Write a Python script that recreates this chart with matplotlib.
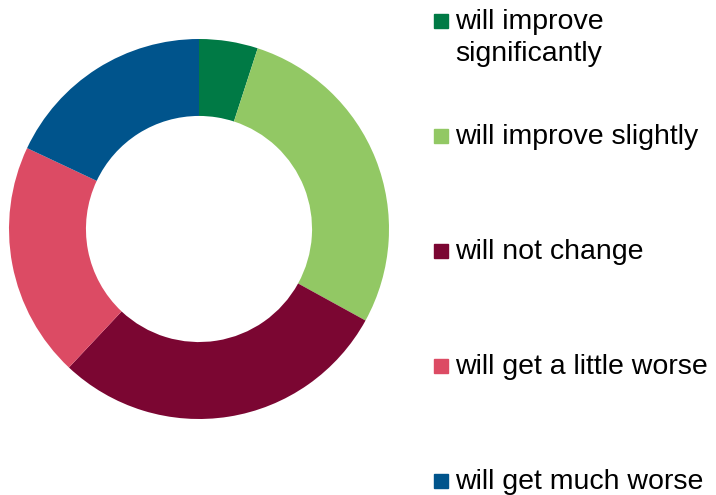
import matplotlib.pyplot as plt
from matplotlib.patches import Rectangle

labels = ["will improve\nsignificantly", "will improve slightly", "will not change",
          "will get a little worse", "will get much worse"]
shares = [5, 28, 29, 20, 18]
colors = ["#007A45", "#92C864", "#7B0632", "#DC4B64", "#00548C"]

plt.rcParams['font.family'] = ['Liberation Sans', 'DejaVu Sans']

W, H = 716, 495
fig = plt.figure(figsize=(W / 100, H / 100), dpi=100, facecolor="white")

# donut
cx, cy, r = 199, 229, 190
ax = fig.add_axes(((cx - r) / W, 1 - (cy + r) / H, 2 * r / W, 2 * r / H))
ax.pie(shares, colors=colors, startangle=90, counterclock=False, radius=1,
       wedgeprops=dict(width=0.405, linewidth=0))
ax.set_xlim(-1, 1)
ax.set_ylim(-1, 1)
ax.set_aspect("equal")
ax.axis("off")

# legend drawn by hand
ys = [21, 136, 251, 366, 481]
for lab, col, y in zip(labels, colors, ys):
    fig.patches.append(Rectangle((434 / W, 1 - (y + 7) / H), 14 / W, 14 / H,
                                 transform=fig.transFigure, color=col))
    for i, line in enumerate(lab.split("\n")):
        fig.text(455 / W, 1 - (y + 1 + i * 32) / H, line, fontsize=20.5,
                 va="center", ha="left", color="black")

fig.savefig("out.png", dpi=100, facecolor="white")
